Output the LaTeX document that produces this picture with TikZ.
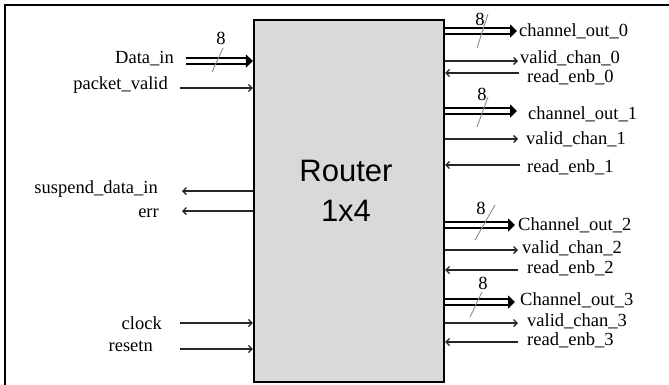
\documentclass[tikz,border=0pt]{standalone}
\usepackage{fontspec}
\setmainfont{Liberation Serif}
\setsansfont{Liberation Sans}
\usepackage{tikz}
\usetikzlibrary{arrows.meta,positioning}
\tikzset{
    moldura/.style={draw, line width=2.5pt},
    roteador/.style={
        rectangle,
        draw,
        line width=2.2pt,
        fill=gray!30,
        minimum width=190pt,
        minimum height=362pt
    },
    titulo/.style={align=center, font=\sffamily\fontsize{31}{40}\selectfont},
    rotulo/.style={inner sep=0pt},
    largura/.style={inner sep=0pt},
    sinal/.style={draw=black!85, line width=1.3pt, -{Straight Barb[length=3.5pt, width=7pt]}},
    barramento/.style={double=white, double distance=3.4pt, line width=1.9pt,
        -{Triangle[length=7pt, width=13pt]}},
    traco/.style={draw=black!45, line width=0.9pt}
}

\begin{document}
\begin{tikzpicture}[x=1pt, y=-1pt, font=\fontsize{18.5}{20}\selectfont]
    \useasboundingbox (0,0) rectangle (669,384);
    \clip (0,0) rectangle (669,384);
    \draw[moldura] (5,5) rectangle (700,420);

    % bloco principal
    \node[roteador] (router) at (349,201) {};
    \node[titulo] (nome) at (346,191) {Router\\1x4};

    % lado esquerdo
    \coordinate (dinIn) at (186,61);
    \coordinate (pvIn) at (180,88);
    \coordinate (sdiOut) at (182,191);
    \coordinate (errOut) at (182,211);
    \coordinate (clkIn) at (180,323);
    \coordinate (rstIn) at (180,349);

    \node[rotulo, left=12pt of dinIn, yshift=2pt] (din) {Data\_in};
    \node[rotulo, left=12pt of pvIn, yshift=3pt] (pvalid) {packet\_valid};
    \node[rotulo, left=24pt of sdiOut, yshift=2pt] (sdi) {suspend\_data\_in};
    \node[rotulo, left=23pt of errOut, yshift=-2pt] (err) {err};
    \node[rotulo, left=18pt of clkIn] (clk) {clock};
    \node[rotulo, left=27pt of rstIn, yshift=3pt] (rst) {resetn};

    \draw[barramento] (dinIn) -- (router.west |- dinIn);
    \draw[sinal] (pvIn) -- (router.west |- pvIn);
    \draw[sinal] (router.west |- sdiOut) -- (sdiOut);
    \draw[sinal] (router.west |- errOut) -- (errOut);
    \draw[sinal] (clkIn) -- (router.west |- clkIn);
    \draw[sinal] (rstIn) -- (router.west |- rstIn);

    \node[largura] (wdin) at (221,38) {8};
    \draw[traco] (212,72) -- (223,48);

    % lado direito, canal 0
    \coordinate (co0) at (517,31);
    \coordinate (vc0) at (518,61);
    \coordinate (re0) at (519,73);
    \node[rotulo, right=2pt of co0] (chout0) {channel\_out\_0};
    \node[rotulo, right=2pt of vc0, yshift=3pt] (vchan0) {valid\_chan\_0};
    \node[rotulo, right=8pt of re0, yshift=-4pt] (renb0) {read\_enb\_0};
    \draw[barramento] (router.east |- co0) -- (co0);
    \draw[sinal] (router.east |- vc0) -- (vc0);
    \draw[sinal] (re0) -- (router.east |- re0);
    \node[largura] (w0) at (480,19) {8};
    \draw[traco] (477,48) -- (488,14);

    % canal 1
    \coordinate (co1) at (517,111);
    \coordinate (vc1) at (518,139);
    \coordinate (re1) at (520,165);
    \node[rotulo, right=11pt of co1, yshift=-3pt] (chout1) {channel\_out\_1};
    \node[rotulo, right=8pt of vc1] (vchan1) {valid\_chan\_1};
    \node[rotulo, right=7pt of re1, yshift=-2pt] (renb1) {read\_enb\_1};
    \draw[barramento] (router.east |- co1) -- (co1);
    \draw[sinal] (router.east |- vc1) -- (vc1);
    \draw[sinal] (re1) -- (router.east |- re1);
    \node[largura] (w1) at (482,94) {8};
    \draw[traco] (477,127) -- (488,97);

    % canal 2
    \coordinate (co2) at (515,225);
    \coordinate (vc2) at (518,250);
    \coordinate (re2) at (518,270);
    \node[rotulo, right=3pt of co2] (chout2) {Channel\_out\_2};
    \node[rotulo, right=4pt of vc2, yshift=2pt] (vchan2) {valid\_chan\_2};
    \node[rotulo, right=9pt of re2, yshift=2pt] (renb2) {read\_enb\_2};
    \draw[barramento] (router.east |- co2) -- (co2);
    \draw[sinal] (router.east |- vc2) -- (vc2);
    \draw[sinal] (re2) -- (router.east |- re2);
    \node[largura] (w2) at (481,208) {8};
    \draw[traco] (475,240) -- (495,205);

    % canal 3
    \coordinate (co3) at (515,302);
    \coordinate (vc3) at (518,323);
    \coordinate (re3) at (518,342);
    \node[rotulo, right=5pt of co3, yshift=2pt] (chout3) {Channel\_out\_3};
    \node[rotulo, right=9pt of vc3, yshift=2pt] (vchan3) {valid\_chan\_3};
    \node[rotulo, right=9pt of re3, yshift=2pt] (renb3) {read\_enb\_3};
    \draw[barramento] (router.east |- co3) -- (co3);
    \draw[sinal] (router.east |- vc3) -- (vc3);
    \draw[sinal] (re3) -- (router.east |- re3);
    \node[largura] (w3) at (483,283) {8};
    \draw[traco] (470,317) -- (482,292);
\end{tikzpicture}
\end{document}
